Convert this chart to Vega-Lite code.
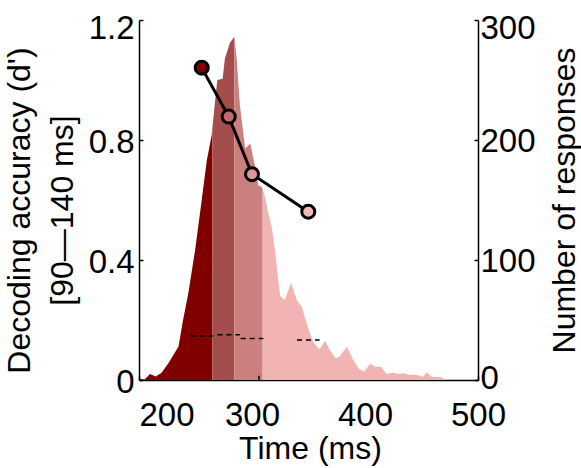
{
  "$schema": "https://vega.github.io/schema/vega-lite/v6.json",
  "width": 339,
  "height": 360,
  "autosize": "none",
  "padding": {"left": 139, "top": 20, "right": 103, "bottom": 88},
  "background": "white",
  "config": {
    "view": {"stroke": null},
    "font": "Liberation Sans",
    "axis": {
      "domainColor": "#000000",
      "domainWidth": 1.5,
      "tickColor": "#000000",
      "tickWidth": 1.5,
      "tickSize": -4,
      "labelFont": "Liberation Sans",
      "labelFontSize": 33,
      "labelColor": "#000000",
      "titleFont": "Liberation Sans",
      "titleFontSize": 32,
      "titleFontWeight": "normal",
      "titleColor": "#000000",
      "grid": false
    }
  },
  "datasets": {
    "hist": [
      {"t": 200, "n": 1, "seg": "a"},
      {"t": 205, "n": 0.5, "seg": "a"},
      {"t": 209.7, "n": 5, "seg": "a"},
      {"t": 214.8, "n": 3, "seg": "a"},
      {"t": 220, "n": 6, "seg": "a"},
      {"t": 226, "n": 14, "seg": "a"},
      {"t": 235, "n": 28, "seg": "a"},
      {"t": 239, "n": 50, "seg": "a"},
      {"t": 243.6, "n": 72, "seg": "a"},
      {"t": 249.6, "n": 108, "seg": "a"},
      {"t": 255.5, "n": 150, "seg": "a"},
      {"t": 260, "n": 183, "seg": "a"},
      {"t": 264.3, "n": 204, "seg": "a"},
      {"t": 264.9, "n": 209.6, "seg": "a"},
      {"t": 264.9, "n": 209.6, "seg": "b"},
      {"t": 267.3, "n": 232, "seg": "b"},
      {"t": 269.3, "n": 250, "seg": "b"},
      {"t": 274, "n": 251, "seg": "b"},
      {"t": 276, "n": 268, "seg": "b"},
      {"t": 280.5, "n": 281, "seg": "b"},
      {"t": 284.4, "n": 286, "seg": "b"},
      {"t": 284.4, "n": 286, "seg": "c"},
      {"t": 286.5, "n": 267, "seg": "c"},
      {"t": 288, "n": 246, "seg": "c"},
      {"t": 289.4, "n": 228, "seg": "c"},
      {"t": 294, "n": 193, "seg": "c"},
      {"t": 298.5, "n": 197, "seg": "c"},
      {"t": 302.7, "n": 178, "seg": "c"},
      {"t": 305.6, "n": 162, "seg": "c"},
      {"t": 308.6, "n": 161, "seg": "c"},
      {"t": 309.4, "n": 158.8, "seg": "c"},
      {"t": 309.4, "n": 158.8, "seg": "d"},
      {"t": 311.5, "n": 153, "seg": "d"},
      {"t": 314.4, "n": 139, "seg": "d"},
      {"t": 317.4, "n": 128, "seg": "d"},
      {"t": 320.4, "n": 108, "seg": "d"},
      {"t": 323.3, "n": 83, "seg": "d"},
      {"t": 325, "n": 70, "seg": "d"},
      {"t": 329, "n": 66.7, "seg": "d"},
      {"t": 334.5, "n": 81, "seg": "d"},
      {"t": 339.6, "n": 66.7, "seg": "d"},
      {"t": 344, "n": 61, "seg": "d"},
      {"t": 349.8, "n": 43, "seg": "d"},
      {"t": 354, "n": 32, "seg": "d"},
      {"t": 359.6, "n": 25.5, "seg": "d"},
      {"t": 364.6, "n": 32.5, "seg": "d"},
      {"t": 369, "n": 25, "seg": "d"},
      {"t": 374.3, "n": 18, "seg": "d"},
      {"t": 378, "n": 20, "seg": "d"},
      {"t": 384, "n": 28, "seg": "d"},
      {"t": 389.6, "n": 16.7, "seg": "d"},
      {"t": 395, "n": 9, "seg": "d"},
      {"t": 399.5, "n": 7, "seg": "d"},
      {"t": 404.4, "n": 13.5, "seg": "d"},
      {"t": 409.7, "n": 11, "seg": "d"},
      {"t": 414, "n": 11, "seg": "d"},
      {"t": 419, "n": 5.3, "seg": "d"},
      {"t": 425, "n": 6, "seg": "d"},
      {"t": 429.5, "n": 5, "seg": "d"},
      {"t": 434, "n": 5.6, "seg": "d"},
      {"t": 440, "n": 4.2, "seg": "d"},
      {"t": 446, "n": 4.2, "seg": "d"},
      {"t": 451.6, "n": 2.8, "seg": "d"},
      {"t": 454.6, "n": 6.4, "seg": "d"},
      {"t": 459, "n": 2.8, "seg": "d"},
      {"t": 468, "n": 2.2, "seg": "d"},
      {"t": 471, "n": 0, "seg": "d"}
    ],
    "acc": [
      {"t": 255.5, "d": 1.041, "seg": "a"},
      {"t": 279.4, "d": 0.878, "seg": "b"},
      {"t": 300, "d": 0.686, "seg": "c"},
      {"t": 349.8, "d": 0.561, "seg": "d"}
    ],
    "chance": [
      {"t0": 245.5, "t1": 265.5, "d": 0.147},
      {"t0": 269.4, "t1": 289.4, "d": 0.151},
      {"t0": 290, "t1": 310, "d": 0.138},
      {"t0": 339.8, "t1": 359.8, "d": 0.133}
    ],
    "marker": [
      {"t": 306.2, "lo": 0, "hi": 0.014}
    ]
  },
  "layer": [
    {
      "data": {"name": "hist"},
      "mark": {"type": "area", "interpolate": "linear", "opacity": 1},
      "encoding": {
        "x": {"field": "t", "type": "quantitative", "scale": {"domain": [200, 500], "nice": false, "zero": false},
          "axis": {"values": [200, 300, 400, 500], "title": "Time (ms)", "titleX": 171, "titleY": 68, "titleAlign": "center", "titleBaseline": "middle", "labelPadding": 23,
            "labelAlign": {"condition": {"test": "datum.value == 200", "value": "left"}, "value": "center"}}},
        "y": {"field": "n", "type": "quantitative", "stack": null, "scale": {"domain": [0, 300], "nice": false},
          "axis": {"orient": "right", "values": [0, 100, 200, 300], "title": "Number of responses", "titleAngle": -90, "titleX": 86, "titleY": 180, "titleAlign": "center", "titleBaseline": "middle", "labelPadding": 6, "labelBaseline": "middle",
            "labelOffset": {"condition": [{"test": "datum.value == 300", "value": 8}, {"test": "datum.value == 0", "value": -2}], "value": 1}}},
        "color": {"field": "seg", "type": "nominal", "legend": null,
          "scale": {"domain": ["a", "b", "c", "d"], "range": ["#800000", "#a44d4d", "#cc7f7f", "#f2b3b3"]}}
      }
    },
    {
      "layer": [
        {
          "data": {"name": "chance"},
          "mark": {"type": "rule", "color": "#000000", "strokeWidth": 1.5, "strokeDash": [5, 4]},
          "encoding": {
            "x": {"field": "t0", "type": "quantitative"},
            "x2": {"field": "t1"},
            "y": {"field": "d", "type": "quantitative"}
          }
        },
        {
          "data": {"name": "marker"},
          "mark": {"type": "rule", "color": "#000000", "strokeWidth": 1.5},
          "encoding": {
            "x": {"field": "t", "type": "quantitative"},
            "y": {"field": "lo", "type": "quantitative"},
            "y2": {"field": "hi"}
          }
        },
        {
          "data": {"name": "acc"},
          "mark": {"type": "line", "color": "#000000", "strokeWidth": 3},
          "encoding": {
            "x": {"field": "t", "type": "quantitative"},
            "y": {"field": "d", "type": "quantitative"}
          }
        },
        {
          "data": {"name": "acc"},
          "mark": {"type": "point", "shape": "circle", "filled": true, "size": 170, "stroke": "#000000", "strokeWidth": 3, "opacity": 1},
          "encoding": {
            "x": {"field": "t", "type": "quantitative"},
            "y": {"field": "d", "type": "quantitative", "scale": {"domain": [0, 1.2], "nice": false},
              "axis": {"orient": "left", "values": [0, 0.4, 0.8, 1.2], "format": "~g", "title": ["Decoding accuracy (d')", "[90\u2014140 ms]"], "titleAngle": -90, "titleX": -120, "titleY": 190, "titleAlign": "center", "titleBaseline": "middle", "titleLineHeight": 43, "labelPadding": 9, "labelBaseline": "middle",
                "labelOffset": {"condition": {"test": "datum.value == 1.2", "value": 8}, "value": 2}}},
            "fill": {"field": "seg", "type": "nominal", "legend": null,
              "scale": {"domain": ["a", "b", "c", "d"], "range": ["#800000", "#c26b6b", "#dc9797", "#f4b8b8"]}}
          }
        }
      ]
    }
  ],
  "resolve": {"scale": {"y": "independent", "fill": "independent", "color": "independent"}}
}
